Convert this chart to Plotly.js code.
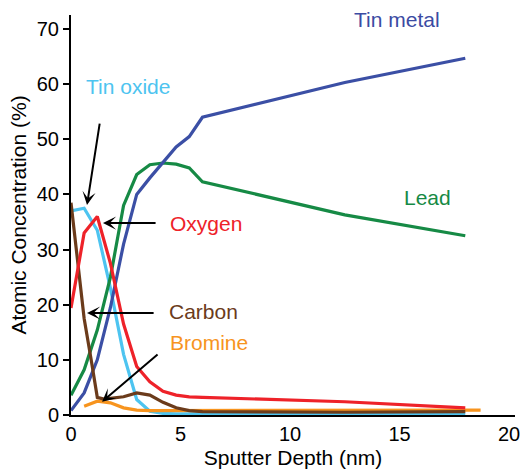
<!DOCTYPE html>
<html>
<head>
<meta charset="utf-8">
<script src="https://cdn.plot.ly/plotly-3.0.1.min.js"></script>
<style>
  html, body { margin: 0; padding: 0; background: #fff; }
  #chart { width: 526px; height: 472px; }
</style>
</head>
<body>
<div id="chart"></div>
<script>
// XPS depth profile: atomic concentration vs sputter depth
const depth = [0, 0.6, 1.2, 1.8, 2.4, 3.0, 3.6, 4.2, 4.8, 5.4, 6.0, 12.5, 18];
const tinMetal = [0.8, 4, 10, 19.5, 31, 40, 43, 45.8, 48.6, 50.5, 54, 60.3, 64.7];
const lead = [3.6, 8.2, 15.4, 25, 38, 43.6, 45.4, 45.7, 45.5, 44.8, 42.3, 36.3, 32.5];
const tinOxide = [37, 37.5, 33.5, 23, 11, 2.8, 0.7, 0.3, 0.2, 0.2, 0.2, 0.2, 0.2];
const oxygen = [19.4, 33, 36, 27.5, 16.5, 8.8, 6, 4.3, 3.6, 3.3, 3.2, 2.4, 1.3];

const carbonDepth = [0, 0.3, 0.6, 0.9, 1.2, 1.5, 1.8, 2.4, 3.0, 3.6, 4.2, 4.8, 5.4, 6.0, 12.5, 18];
const carbon = [38.5, 28.5, 17.5, 10.5, 3.2, 2.9, 3.0, 3.3, 4.0, 3.6, 2.3, 1.3, 0.8, 0.6, 0.5, 0.6];

const bromineDepth = [0.6, 1.2, 1.8, 2.4, 3.0, 3.6, 18.7];
const bromine = [1.6, 2.5, 2.2, 1.3, 0.9, 0.8, 0.9];

const xTicks = [0, 5, 10, 15, 20];
const yTicks = [0, 10, 20, 30, 40, 50, 60, 70];

const FONT = '"Liberation Sans", Arial, Helvetica, sans-serif';

function line(x, y, color) {
  return {
    x: x, y: y, type: 'scatter', mode: 'lines',
    line: { color: color, width: 3.2 },
    hoverinfo: 'skip', showlegend: false
  };
}

const traces = [
  line(depth, tinOxide, '#4DC4F0'),
  line(depth, lead, '#168A45'),
  line(depth, tinMetal, '#3B4FA5'),
  line(bromineDepth, bromine, '#F7941E'),
  line(carbonDepth, carbon, '#6B3B1B'),
  line(depth, oxygen, '#EE2229')
];

function label(text, x, y, color) {
  return {
    text: text, x: x, y: y, xref: 'x', yref: 'y',
    showarrow: false, font: { family: FONT, size: 21, color: color },
    xanchor: 'center', yanchor: 'middle'
  };
}

function arrow(x0, y0, x1, y1) {
  return {
    text: '', x: x1, y: y1, ax: x0, ay: y0,
    xref: 'x', yref: 'y', axref: 'x', ayref: 'y',
    showarrow: true, arrowhead: 3, arrowsize: 1.1, arrowwidth: 2,
    arrowcolor: '#000', standoff: 0, startstandoff: 0
  };
}

const layout = {
  width: 526, height: 472,
  margin: { l: 71, r: 11, t: 15, b: 57 },
  paper_bgcolor: '#fff', plot_bgcolor: '#fff',
  font: { family: FONT, size: 20, color: '#000' },
  xaxis: {
    range: [0, 20.27], tickvals: xTicks, ticktext: xTicks.map(String),
    showgrid: false, zeroline: false, showline: true,
    linecolor: '#000', linewidth: 2, ticks: '',
    tickfont: { family: FONT, size: 20 },
    title: { text: 'Sputter Depth (nm)', font: { family: FONT, size: 21 }, standoff: 6 }
  },
  yaxis: {
    range: [0, 72.54], tickvals: yTicks, ticktext: yTicks.map(String),
    showgrid: false, zeroline: false, showline: true,
    linecolor: '#000', linewidth: 2, ticks: 'outside', ticklen: 6, tickwidth: 2, tickcolor: '#000',
    tickfont: { family: FONT, size: 20 },
    title: { text: 'Atomic Concentration (%)', font: { family: FONT, size: 21 }, standoff: 4 }
  },
  annotations: [
    label('Tin metal', 14.9, 71.8, '#3B4BA3'),
    label('Lead', 16.26, 39.5, '#168A45'),
    label('Tin oxide', 2.6, 59.5, '#4DC4F0'),
    label('Oxygen', 6.16, 34.8, '#EE2229'),
    label('Carbon', 6.03, 18.7, '#6B3B1B'),
    label('Bromine', 6.3, 13.1, '#F7941E'),
    arrow(1.32, 53.1, 0.73, 38.1),
    arrow(3.93, 34.8, 1.46, 34.8),
    arrow(3.84, 18.5, 0.73, 18.5),
    arrow(4.02, 11.2, 1.42, 2.4)
  ]
};

Plotly.newPlot('chart', traces, layout, { displayModeBar: false, staticPlot: true });
</script>
</body>
</html>
